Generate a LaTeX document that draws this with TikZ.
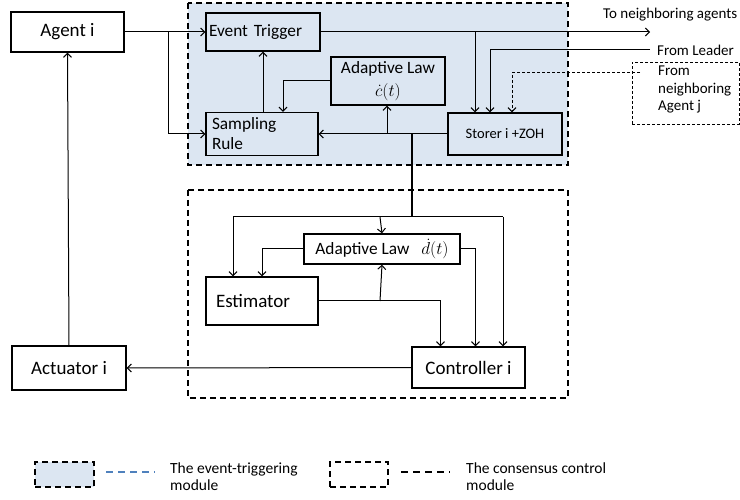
\documentclass[tikz,border=0pt]{standalone}
\usepackage{fontspec}
\setmainfont{Carlito}
\usetikzlibrary{arrows.meta}
\definecolor{etblue}{HTML}{DCE6F2}
\definecolor{lgblue}{HTML}{4F81BD}
\begin{document}
\begin{tikzpicture}[x=1pt,y=-1pt,
  font=\fontsize{19}{21}\selectfont,
  box/.style={draw, line width=1.4pt, inner sep=0pt},
  inbox/.style={box, font=\fontsize{17.3}{20}\selectfont},
  arr/.style={-{Straight Barb[length=4pt,width=8pt]}, line width=1pt},
  ln/.style={line width=1pt},
  region/.style={draw, line width=1.8pt, dash pattern=on 6pt off 4pt},
  smalltxt/.style={font=\fontsize{15}{17.5}\selectfont},
  legtxt/.style={font=\fontsize{15.5}{17}\selectfont}]
\useasboundingbox (0,0) rectangle (740,500);

% module regions
\fill[etblue] (188,3) rectangle (568,165);
\draw[region] (188,3) rectangle (568,165);
\draw[region] (188,190) rectangle (568,398);

% blocks
\node[box, minimum width=113pt, minimum height=40pt] (agent) at (67.5,32) {Agent i};
\node[inbox, minimum width=114pt, minimum height=38pt, text width=108pt, align=left] (et) at (263,32) {Event Trigger};
\node[inbox, minimum width=112pt, minimum height=43pt, text width=100pt, align=left] (sr) at (262,134) {Sampling\\Rule};
\node[inbox, minimum width=114pt, minimum height=48pt, align=center] (adc) at (388,81) {Adaptive Law\\[3pt]{\fontsize{19}{19}\selectfont$\dot{c}(t)$}};
\node[box, minimum width=114pt, minimum height=42pt, font=\fontsize{14.5}{17}\selectfont] (storer) at (505,134) {Storer i +ZOH};
\node[inbox, minimum width=156pt, minimum height=30pt] (adl) at (382,249) {Adaptive Law\hspace{12pt}{\fontsize{19}{19}\selectfont$\dot{d}(t)$}};
\node[box, minimum width=112pt, minimum height=48pt, text width=92pt, align=left] (est) at (262,301) {Estimator};
\node[box, minimum width=113pt, minimum height=41pt] (ctrl) at (468.5,367.5) {Controller i};
\node[box, minimum width=114pt, minimum height=44pt] (act) at (69,368) {Actuator i};

% external inputs / outputs
\node[draw, line width=0.8pt, dash pattern=on 3pt off 2pt, minimum width=107pt, minimum height=62pt, inner sep=0pt] (nbbox) at (685.5,93) {};
\node[smalltxt, anchor=west, align=left, inner sep=0pt] (nbtext) at (658,89.5) {From\\neighboring\\Agent j};
\node[smalltxt, anchor=west, inner sep=0pt] (totext) at (603,15) {To neighboring agents};
\node[smalltxt, anchor=west, inner sep=0pt] (fltext) at (657,50) {From Leader};
\coordinate (toN) at (650,32);
\coordinate (fl) at (650,50);
\coordinate (fj) at (640,73);

% coordinates for junctions
\coordinate (j1) at (168,32);
\coordinate (j2) at (387,134);
\coordinate (j3) at (412,134);
\coordinate (j4) at (475,32);
\coordinate (b1) at (233,217);
\coordinate (bc) at (380,217);
\coordinate (bm) at (412,217);
\coordinate (b2) at (503,217);
\coordinate (e1) at (380,301);

% event-triggering module connections
\draw[arr] (agent.east) -- (et.west);
\draw[arr] (j1) |- (sr.west);
\draw[arr] (sr.north -| 263,0) -- (et.south -| 263,0);
\draw[arr] (adc.west) -| ([xshift=21pt]sr.north);
\draw[arr] (storer.west) -- (sr.east);
\draw[arr] (j2) -- (j2 |- adc.south);
\draw[arr] (et.east) -- (toN);
\draw[arr] (j4) -- (j4 |- storer.north);
\draw[arr] (fl) -| ([xshift=-15pt]storer.north);
\draw[arr, dash pattern=on 3pt off 2pt] (fj) -| ([xshift=7pt]storer.north);

% consensus module connections
\draw[line width=1.6pt] (j3) -- (bm);
\draw[ln] (b1) -- (b2);
\draw[arr] (b1) -- (b1 |- est.north);
\draw[arr] (bc) -- (adl.north);
\draw[arr] (b2) -- (b2 |- ctrl.north);
\draw[arr] (adl.west) -| (262,0 |- est.north);
\draw[arr] (adl.east) -| ([xshift=7pt]ctrl.north);
\draw[arr] (est.east) -| ([xshift=-28pt]ctrl.north);
\draw[arr] (e1) -- (adl.south);
\draw[arr] (ctrl.west) -- (act.east);
\draw[arr] (act.north) -- (agent.south);

% legend
\node[draw, fill=etblue, line width=1.8pt, dash pattern=on 6pt off 4pt, minimum width=59pt, minimum height=25pt, inner sep=0pt] (lg1) at (64.5,474.5) {};
\coordinate (lb1) at (106,472);
\coordinate (lb2) at (155,472);
\draw[lgblue, line width=1.6pt, dash pattern=on 7pt off 5pt] (lb1) -- (lb2);
\node[legtxt, anchor=west, align=left, inner sep=0pt] (lt1) at (170,476.5) {The event-triggering\\module};
\node[draw, line width=1.8pt, dash pattern=on 6pt off 4pt, minimum width=58pt, minimum height=25pt, inner sep=0pt] (lg2) at (359,474.5) {};
\coordinate (lk1) at (401,472);
\coordinate (lk2) at (450,472);
\draw[line width=1.6pt, dash pattern=on 7pt off 5pt] (lk1) -- (lk2);
\node[legtxt, anchor=west, align=left, inner sep=0pt] (lt2) at (466,476.5) {The consensus control\\module};
\end{tikzpicture}
\end{document}
